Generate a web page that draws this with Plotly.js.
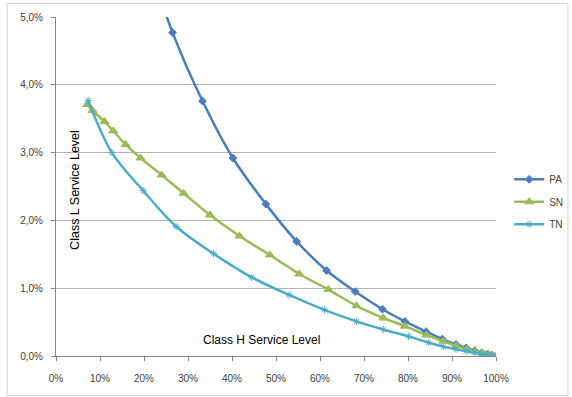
<!DOCTYPE html>
<html>
<head>
<meta charset="utf-8">
<script src="https://cdn.plot.ly/plotly-3.0.1.min.js"></script>
<style>
  html, body { margin: 0; padding: 0; background: #ffffff; }
  #chart { width: 572px; height: 397px; }
</style>
</head>
<body>
<div id="chart"></div>
<script>
// Class H service level (%) against class L service level (%) for each policy
const paX = [19.5, 26.5, 33.3, 40.2, 47.7, 54.7, 61.5, 68.0, 74.2, 79.3, 84.1, 87.8, 90.9, 93.2, 95.2, 96.8, 98.1, 99.1, 100];
const paY = [6.1, 4.77, 3.76, 2.92, 2.24, 1.69, 1.26, 0.95, 0.69, 0.51, 0.36, 0.25, 0.17, 0.12, 0.08, 0.05, 0.03, 0.015, 0];

const snX = [7.1, 8.3, 11.0, 13.0, 15.8, 19.2, 24.0, 29.0, 35.0, 41.7, 48.6, 55.3, 61.9, 68.3, 74.4, 79.3, 84.2, 88.0, 91.0, 93.3, 95.3, 96.9, 98.2, 99.2, 100];
const snY = [3.71, 3.62, 3.46, 3.32, 3.12, 2.92, 2.67, 2.40, 2.08, 1.77, 1.49, 1.21, 0.98, 0.74, 0.56, 0.44, 0.31, 0.22, 0.15, 0.10, 0.07, 0.04, 0.02, 0.01, 0];

const tnX = [7.3, 12.7, 19.8, 27.3, 35.8, 44.5, 53.0, 61.0, 68.3, 74.4, 80.1, 84.6, 88.0, 90.9, 93.2, 95.2, 96.8, 98.1, 99.1, 100];
const tnY = [3.77, 3.00, 2.44, 1.91, 1.51, 1.16, 0.90, 0.68, 0.51, 0.39, 0.29, 0.20, 0.14, 0.10, 0.07, 0.05, 0.03, 0.02, 0.01, 0];

const xTickVals = [0, 10, 20, 30, 40, 50, 60, 70, 80, 90, 100];
const xTickText = ['0%', '10%', '20%', '30%', '40%', '50%', '60%', '70%', '80%', '90%', '100%'];
const yTickVals = [0, 1, 2, 3, 4, 5];
const yTickText = ['0,0%', '1,0%', '2,0%', '3,0%', '4,0%', '5,0%'];

const font = 'Liberation Sans, Arial, sans-serif';

function series(name, x, y, color, symbol, size) {
  return {
    type: 'scatter', mode: 'lines+markers', name: name, x: x, y: y,
    legendgroup: name,
    line: { color: color, width: 2.5, shape: 'spline', smoothing: 1 },
    marker: { color: color, symbol: symbol, size: size, line: { color: color, width: 1 } },
    cliponaxis: true
  };
}

const traces = [
  series('PA', paX, paY, '#4a7ebb', 'diamond', 6),
  series('SN', snX, snY, '#9bbb59', 'triangle-up', 8),
  series('TN', tnX, tnY, '#4bacc6', 'asterisk-open', 6)
];

const layout = {
  width: 572, height: 397,
  margin: { l: 56, r: 76, t: 16.5, b: 40.7, autoexpand: false },
  paper_bgcolor: '#ffffff', plot_bgcolor: '#ffffff',
  font: { family: font, size: 10, color: '#404040' },
  showlegend: true,
  legend: {
    x: 1.03, y: 0.564, xanchor: 'left', yanchor: 'top',
    font: { family: font, size: 10, color: '#404040' },
    traceorder: 'grouped', tracegroupgap: 3.5,
    itemwidth: 30, bgcolor: 'rgba(0,0,0,0)'
  },
  xaxis: {
    range: [0, 100], tickvals: xTickVals, ticktext: xTickText,
    showgrid: false, zeroline: false,
    showline: true, linecolor: '#868686', linewidth: 1,
    ticks: 'outside', ticklen: 4, tickcolor: '#868686',
    ticklabelstandoff: 9,
    tickfont: { family: font, size: 10, color: '#404040' }
  },
  yaxis: {
    range: [0, 5], tickvals: yTickVals, ticktext: yTickText,
    showgrid: true, gridcolor: '#b3b3b3', gridwidth: 1.3, zeroline: false,
    showline: true, linecolor: '#868686', linewidth: 1,
    ticks: 'outside', ticklen: 4, tickcolor: '#868686',
    ticklabelstandoff: 6,
    tickfont: { family: font, size: 10, color: '#404040' }
  },
  annotations: [
    { text: 'Class L Service Level', xref: 'paper', yref: 'paper', x: 0.0227, y: 0.49,
      textangle: -90, showarrow: false, font: { family: font, size: 12.5, color: '#000000' } },
    { text: 'Class H Service Level', xref: 'paper', yref: 'paper', x: 0.468, y: 0.022,
      showarrow: false, font: { family: font, size: 12, color: '#000000' } }
  ],
  shapes: [
    { type: 'rect', xref: 'paper', yref: 'paper', x0: -0.111, x1: 1.1636, y0: -0.117, y1: 1.04,
      line: { color: '#d0d0d0', width: 1 }, fillcolor: 'rgba(0,0,0,0)', layer: 'below' }
  ]
};

Plotly.newPlot('chart', traces, layout, { displayModeBar: false, staticPlot: true });
</script>
</body>
</html>
